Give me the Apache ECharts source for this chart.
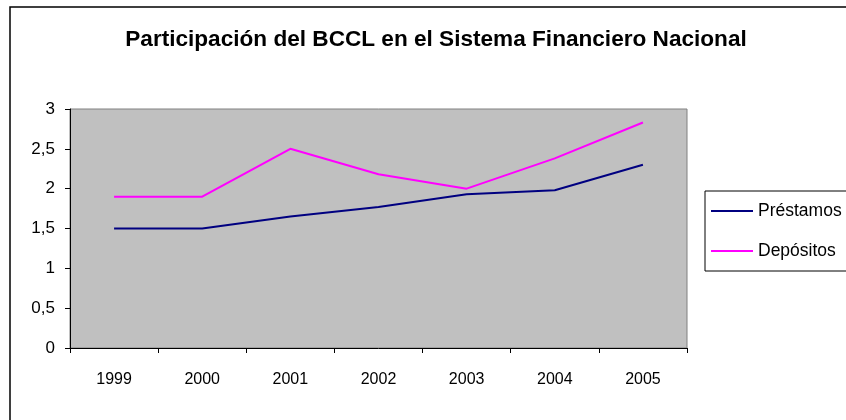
<!DOCTYPE html>
<html>
<head>
<meta charset="utf-8">
<script src="https://cdn.jsdelivr.net/npm/echarts@6/dist/echarts.min.js"></script>
<style>html,body{margin:0;padding:0;background:#fff}#c{width:846px;height:420px}</style>
</head>
<body>
<div id="c"></div>
<script>
var categories = ['1999', '2000', '2001', '2002', '2003', '2004', '2005'];
var prestamos = [1.50, 1.50, 1.65, 1.77, 1.93, 1.98, 2.30];
var depositos = [1.90, 1.90, 2.50, 2.18, 2.00, 2.38, 2.83];
var titleText = 'Participación del BCCL en el Sistema Financiero Nacional';
var seriesNames = ['Préstamos', 'Depósitos'];

var chart = echarts.init(document.getElementById('c'), null, {renderer: 'canvas'});
var font = 'Liberation Sans, Arial, sans-serif';
chart.setOption({
  animation: false,
  backgroundColor: '#fff',
  title: {
    text: titleText,
    left: 431, top: 23, textAlign: 'center',
    textStyle: {fontFamily: font, fontSize: 22.6, fontWeight: 'bold', color: '#000'}
  },
  graphic: [{
    type: 'rect', shape: {x: 10, y: 7, width: 900, height: 500},
    style: {fill: 'none', stroke: '#000', lineWidth: 1.5}, z: 100
  }],
  legend: {
    orient: 'vertical', left: 705, top: 191,
    padding: [11, 12, 11, 6],
    itemGap: 22, itemWidth: 42, itemHeight: 2, icon: 'rect',
    borderColor: '#000', borderWidth: 1, backgroundColor: '#fff',
    textStyle: {fontFamily: font, fontSize: 17.5, lineHeight: 16, color: '#000'},
    data: seriesNames
  },
  grid: {
    left: 70, right: 159, top: 109, bottom: 72,
    show: true, backgroundColor: '#C0C0C0', borderColor: '#808080', borderWidth: 1
  },
  xAxis: {
    type: 'category', data: categories, boundaryGap: true,
    axisLine: {lineStyle: {color: '#000', width: 1}},
    axisTick: {show: true, length: 5, alignWithLabel: false, lineStyle: {color: '#000'}},
    axisLabel: {fontFamily: font, fontSize: 16, color: '#000', margin: 24}
  },
  yAxis: {
    type: 'value', min: 0, max: 3, interval: 0.5,
    axisLine: {show: true, lineStyle: {color: '#000', width: 1}},
    axisTick: {show: true, length: 5, lineStyle: {color: '#000'}},
    splitLine: {show: false},
    axisLabel: {fontFamily: font, fontSize: 17, color: '#000', margin: 15,
      formatter: function (v) { return String(v).replace('.', ','); }}
  },
  series: [
    {name: seriesNames[0], type: 'line', data: prestamos, symbol: 'none',
     lineStyle: {color: '#000080', width: 2}, itemStyle: {color: '#000080'}},
    {name: seriesNames[1], type: 'line', data: depositos, symbol: 'none',
     lineStyle: {color: '#FF00FF', width: 2}, itemStyle: {color: '#FF00FF'}}
  ]
});
</script>
</body>
</html>
